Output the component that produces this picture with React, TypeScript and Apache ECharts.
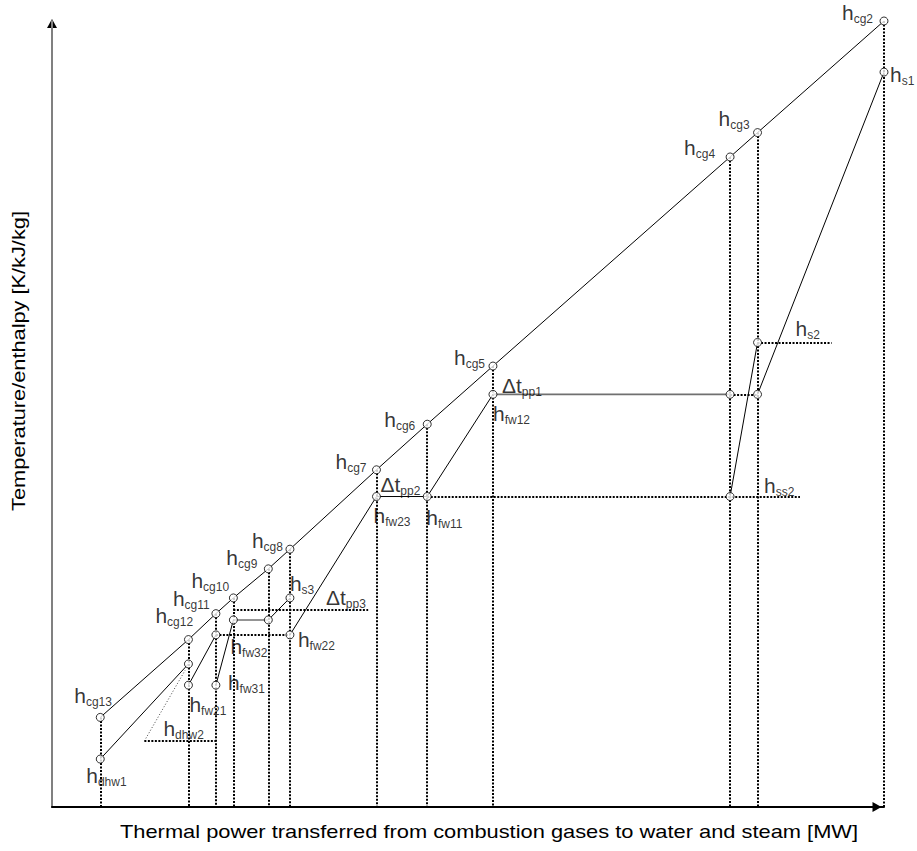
import { useEffect, useRef } from 'react';
import * as echarts from 'echarts';

const FONT = "'Liberation Sans', Arial, Helvetica, sans-serif";

// Combustion gas state points, from the stack end (cg13) to the inlet (cg2)
const gasKeys = ['cg13', 'cg12', 'cg11', 'cg10', 'cg9', 'cg8', 'cg7', 'cg6', 'cg5', 'cg4', 'cg3', 'cg2'];
const gasPower = [5.8, 16.4, 19.7, 21.8, 26.0, 28.6, 39.0, 45.1, 53.0, 81.5, 84.8, 100];
const gasLevel = [11.4, 21.3, 24.6, 26.6, 30.3, 32.8, 42.9, 48.7, 56.1, 82.7, 85.8, 100];

// Water / steam state points (empty label = unnamed junction)
const waterKeys = ['dhw1', 'dhw2', 'fw21', 'fw21o', 'fw31', 'fw32', 'fw32o', 's3', 'fw22', 'fw23', 'fw11', 'fw12', 'fw12o', 's2i', 's1', 'ss2', 's2'];
const waterLabels = ['dhw1', 'dhw2', 'fw21', '', 'fw31', 'fw32', '', 's3', 'fw22', 'fw23', 'fw11', 'fw12', '', '', 's1', 'ss2', 's2'];
const waterPower = [5.8, 16.4, 16.4, 19.7, 19.7, 21.8, 26.0, 28.6, 28.6, 39.0, 45.1, 53.0, 81.5, 84.8, 100, 81.5, 84.8];
const waterLevel = [6.1, 18.2, 15.5, 21.9, 15.5, 23.8, 23.8, 26.6, 21.9, 39.5, 39.5, 52.5, 52.5, 52.5, 93.5, 39.5, 59.1];

// Heating paths through the water/steam points
const solidPaths = [
  ['dhw1', 'dhw2'],
  ['fw21', 'fw21o'],
  ['fw31', 'fw32'],
  ['fw32o', 's3'],
  ['fw22', 'fw23', 'fw11', 'fw12'],
  ['s2i', 's1'],
  ['ss2', 's2'],
];
const evaporatorPaths = [
  ['fw32', 'fw32o'],
  ['fw12', 'fw12o'],
];
const dottedPaths = [['fw12o', 's2i']];

// Pinch point annotations and the state point each one sits by
const pinchKeys = ['pp1', 'pp2', 'pp3'];
const pinchAt = ['fw12', 'fw23', 's3'];

// Horizontal reference levels: level, start, end
const guideLevel = [25.1, 21.9, 39.5, 59.1, 8.4];
const guideFrom = [21.8, 19.7, 45.1, 84.8, 11.1];
const guideTo = [38.0, 28.6, 89.9, 93.7, 19.7];

// Leader line for the h_dhw2 label
const leaderStart = [11.1, 8.4];
const leaderEnd = [16.0, 17.4];

const xTitle = 'Thermal power transferred from combustion gases to water and steam [MW]';
const yTitle = 'Temperature/enthalpy [K/kJ/kg]';

// Label placement: offset of each label's top-left corner from its point
const labelOffset: Record<string, [number, number]> = {
  cg2: [-42, -19],
  cg3: [-39, -25],
  cg4: [-46, -20],
  cg5: [-39, -19],
  cg6: [-43, -15],
  cg7: [-41, -19],
  cg8: [-38, -19],
  cg9: [-42, -22],
  cg10: [-42, -28],
  cg11: [-43, -26],
  cg12: [-33, -35],
  cg13: [-26, -32],
  dhw1: [-14, 6],
  dhw2: [-25, 54],
  fw21: [1, 9],
  fw31: [12, -13],
  fw32: [-3, 16],
  s3: [0, -25],
  fw22: [8, -6],
  fw23: [-3, 8],
  fw11: [-1, 10],
  fw12: [0, 9],
  s1: [6, -8],
  ss2: [34, -22],
  s2: [38, -24],
  pp1: [9, -19],
  pp2: [4, -23],
  pp3: [36, -11],
};

const GRID = { left: 52, top: 21, width: 832, height: 786 };

const rich = {
  h: { fontSize: 21, lineHeight: 21, verticalAlign: 'top', color: '#000', fontFamily: FONT },
  s: { fontSize: 12, lineHeight: 12, verticalAlign: 'top', padding: [11, 0, 0, 0], color: '#000', fontFamily: FONT },
};

const waterPoint = (key: string): [number, number] => {
  const i = waterKeys.indexOf(key);
  return [waterPower[i], waterLevel[i]];
};

function buildOption() {
  const labelFor = (key: string, head: string, sub: string) => ({
    show: true,
    formatter: `{h|${head}}{s|${sub}}`,
    offset: labelOffset[key],
  });

  const gasPoints = gasKeys.map((k, i) => ({
    value: [gasPower[i], gasLevel[i]],
    label: labelFor(k, 'h', k),
  }));
  const waterPoints = waterKeys.map((k, i) => ({
    value: [waterPower[i], waterLevel[i]],
    label: waterLabels[i] ? labelFor(k, 'h', waterLabels[i]) : { show: false },
  }));
  const pinchPoints = pinchKeys.map((k, i) => ({
    value: waterPoint(pinchAt[i]),
    label: labelFor(k, 'Δt', k),
  }));

  const gasPath = gasKeys.map((_, i) => [gasPower[i], gasLevel[i]]);
  const drops = gasKeys.map((_, i) => ({ coords: [[gasPower[i], gasLevel[i]], [gasPower[i], 0]] }));
  const levels = guideLevel.map((y, i) => ({ coords: [[guideFrom[i], y], [guideTo[i], y]] }));

  const baseLabel = {
    position: 'inside',
    align: 'left',
    verticalAlign: 'top',
    color: '#000',
    textBorderWidth: 0,
    textBorderColor: 'transparent',
    rich,
  };

  return {
    animation: false,
    backgroundColor: '#fff',
    textStyle: { fontFamily: FONT },
    grid: { ...GRID },
    xAxis: {
      type: 'value',
      min: 0,
      max: 100,
      axisLine: {
        show: true,
        lineStyle: { color: '#000', width: 2 },
        symbol: ['none', 'triangle'],
        symbolSize: [10, 9],
        symbolOffset: [0, -7],
      },
      axisTick: { show: false },
      axisLabel: { show: false },
      splitLine: { show: false },
    },
    yAxis: {
      type: 'value',
      min: 0,
      max: 100,
      axisLine: { show: true, lineStyle: { color: '#808080', width: 2 } },
      axisTick: { show: false },
      axisLabel: { show: false },
      splitLine: { show: false },
    },
    series: [
      {
        name: 'drop lines',
        type: 'lines',
        coordinateSystem: 'cartesian2d',
        silent: true,
        z: 2,
        lineStyle: { color: '#000', width: 2, type: [2, 1.5], opacity: 1, curveness: 0 },
        data: [
          ...drops,
          ...levels,
          ...dottedPaths.map((p) => ({ coords: p.map(waterPoint) })),
        ],
      },
      {
        name: 'leader',
        type: 'lines',
        coordinateSystem: 'cartesian2d',
        silent: true,
        z: 2,
        lineStyle: { color: '#444', width: 1, type: [1, 2], opacity: 1, curveness: 0 },
        data: [{ coords: [leaderStart, leaderEnd] }],
      },
      {
        name: 'evaporation',
        type: 'lines',
        coordinateSystem: 'cartesian2d',
        polyline: true,
        silent: true,
        z: 3,
        lineStyle: { color: '#707070', width: 1.6, opacity: 1 },
        data: evaporatorPaths.map((p) => ({ coords: p.map(waterPoint) })),
      },
      {
        name: 'heating',
        type: 'lines',
        coordinateSystem: 'cartesian2d',
        polyline: true,
        silent: true,
        z: 3,
        lineStyle: { color: '#000', width: 1, opacity: 1 },
        data: [{ coords: gasPath }, ...solidPaths.map((p) => ({ coords: p.map(waterPoint) }))],
      },
      {
        name: 'gas',
        type: 'scatter',
        silent: true,
        z: 5,
        symbol: 'circle',
        symbolSize: 8,
        itemStyle: { color: '#fff', borderColor: '#000', borderWidth: 1 },
        label: baseLabel,
        data: gasPoints,
      },
      {
        name: 'water',
        type: 'scatter',
        silent: true,
        z: 5,
        symbol: 'circle',
        symbolSize: 8,
        itemStyle: { color: '#fff', borderColor: '#000', borderWidth: 1 },
        label: baseLabel,
        data: waterPoints,
      },
      {
        name: 'pinch',
        type: 'scatter',
        silent: true,
        z: 6,
        symbol: 'circle',
        symbolSize: 1,
        itemStyle: { color: 'transparent' },
        label: baseLabel,
        data: pinchPoints,
      },
    ],
    graphic: [
      {
        type: 'polygon',
        silent: true,
        shape: {
          points: [
            [GRID.left, GRID.top - 2],
            [GRID.left - 5, GRID.top + 7],
            [GRID.left + 5, GRID.top + 7],
          ],
        },
        style: { fill: '#000' },
      },
      {
        type: 'text',
        silent: true,
        x: 489,
        y: 831.7,
        scaleX: 1.175,
        style: { text: xTitle, fill: '#000', fontSize: 18.6, fontFamily: FONT, align: 'center', verticalAlign: 'middle' },
      },
      {
        type: 'text',
        silent: true,
        x: 18.6,
        y: 361,
        rotation: Math.PI / 2,
        scaleX: 1.17,
        style: { text: yTitle, fill: '#000', fontSize: 18.6, fontFamily: FONT, align: 'center', verticalAlign: 'middle' },
      },
    ],
  };
}

export default function App() {
  const ref = useRef<HTMLDivElement>(null);
  useEffect(() => {
    if (!ref.current) return;
    const chart = echarts.init(ref.current, undefined, { renderer: 'svg' });
    chart.setOption(buildOption() as any);
    return () => chart.dispose();
  }, []);
  return (
    <div
      ref={ref}
      style={{ position: 'fixed', left: 0, top: 0, width: 917, height: 851, background: '#fff' }}
    />
  );
}
